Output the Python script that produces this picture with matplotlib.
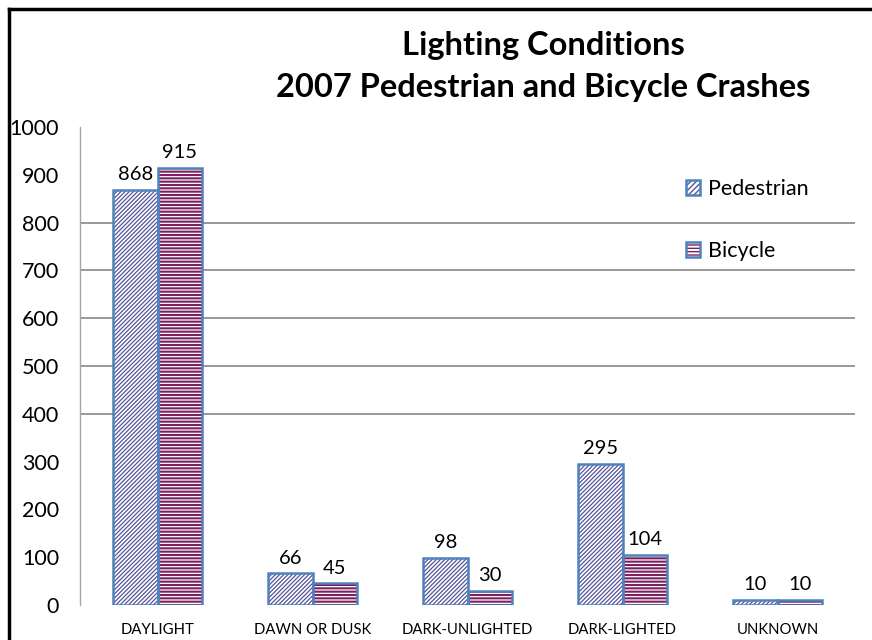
import matplotlib
matplotlib.use("Agg")
import matplotlib.pyplot as plt
from matplotlib.patches import Patch
from matplotlib.lines import Line2D
import numpy as np

plt.rcParams['font.family'] = ['Lato', 'DejaVu Sans']

# data
categories = ["DAYLIGHT", "DAWN OR DUSK", "DARK-UNLIGHTED", "DARK-LIGHTED", "UNKNOWN"]
pedestrian = [868, 66, 98, 295, 10]
bicycle = [915, 45, 30, 104, 10]
grid_levels = [400, 500, 600, 700, 800]
y_ticks = [0, 100, 200, 300, 400, 500, 600, 700, 800, 900, 1000]

edge_blue = "#4f81bd"
ped_hatch = "#55559a"
bike_hatch = "#7b1f5e"

fig = plt.figure(figsize=(8.72, 6.4), dpi=100)
ax = fig.add_axes([80/872, 1-605/640, 775/872, 478/640])

x = np.arange(len(categories))
w = 0.285

# gridlines (only some levels are drawn in the original)
ax.hlines(grid_levels, -0.5, 4.5, color="#868686", lw=1.2, zorder=0)

# pedestrian: diagonal hatch
with plt.rc_context({'hatch.linewidth': 0.9}):
    ax.bar(x - w/2, pedestrian, w, facecolor="white", edgecolor=ped_hatch,
           hatch="////////", linewidth=0, zorder=2)
b1 = ax.bar(x - w/2, pedestrian, w, fill=False, edgecolor=edge_blue, linewidth=1.8, zorder=3)

# bicycle: horizontal stripes
with plt.rc_context({'hatch.linewidth': 1.5}):
    ax.bar(x + w/2, bicycle, w, facecolor="white", edgecolor=bike_hatch,
           hatch="-----", linewidth=0, zorder=2)
b2 = ax.bar(x + w/2, bicycle, w, fill=False, edgecolor=edge_blue, linewidth=1.8, zorder=3)

ax.bar_label(b1, labels=[str(v) for v in pedestrian], padding=5, fontsize=14.5)
ax.bar_label(b2, labels=[str(v) for v in bicycle], padding=5, fontsize=14.5)

ax.set_xlim(-0.5, 4.5)
ax.set_ylim(0, 1000)
ax.set_yticks(y_ticks)
ax.set_xticks(x)
ax.set_xticklabels(categories, fontsize=10.7)
ax.tick_params(axis='y', length=0, pad=15, labelsize=15.5)
ax.tick_params(axis='x', length=0, pad=13)
for s in ["top", "right", "bottom"]:
    ax.spines[s].set_visible(False)
ax.spines["left"].set_color("#a6a6a6")
ax.spines["left"].set_linewidth(1)

# legend
with plt.rc_context({'hatch.linewidth': 0.9}):
    h1 = Patch(facecolor="white", edgecolor=ped_hatch, hatch="//////", linewidth=0)
with plt.rc_context({'hatch.linewidth': 1.2}):
    h2 = Patch(facecolor="white", edgecolor=bike_hatch, hatch="-----", linewidth=0)
h1b = Patch(fill=False, edgecolor=edge_blue, linewidth=1.8)
h2b = Patch(fill=False, edgecolor=edge_blue, linewidth=1.8)
leg = ax.legend([(h1, h1b), (h2, h2b)], ["Pedestrian", "Bicycle"], loc="upper left",
                bbox_to_anchor=(591/775, 1 - 37/478), frameon=True, fontsize=15.5,
                handlelength=0.65, handleheight=0.65, handletextpad=0.35,
                labelspacing=1.95, borderpad=0.2)
leg.get_frame().set_edgecolor("none")
leg.get_frame().set_facecolor("none")

# title
fig.text(543/872, 1 - 45/640, "Lighting Conditions", ha="center", va="center",
         fontsize=23.5, fontweight="bold")
fig.text(543/872, 1 - 88/640, "2007 Pedestrian and Bicycle Crashes", ha="center",
         va="center", fontsize=23.5, fontweight="bold")

# outer frame (left and top edges visible)
fig.add_artist(Line2D([9/872, 9/872], [0, 1 - 9/640], color="black", lw=2.5,
                      transform=fig.transFigure))
fig.add_artist(Line2D([9/872, 1], [1 - 9/640, 1 - 9/640], color="black", lw=2.5,
                      transform=fig.transFigure))

fig.savefig("out.png", dpi=100)
